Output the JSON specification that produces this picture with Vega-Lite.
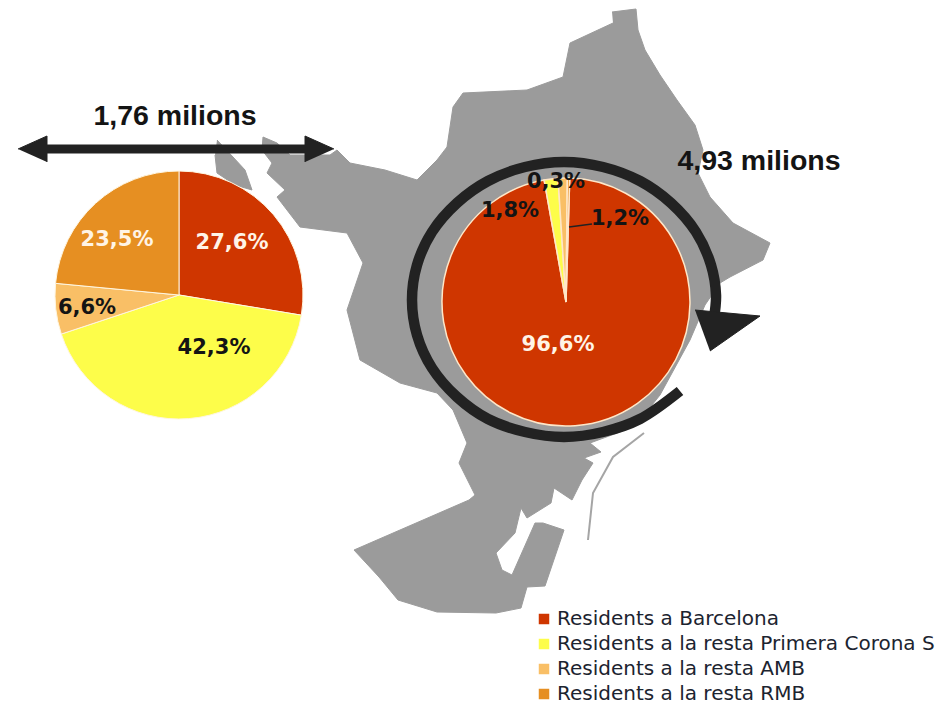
{"$schema":"https://vega.github.io/schema/vega-lite/v6.json","width":943,"height":712,"autosize":{"type":"fit","contains":"padding"},"padding":0,"background":"white","config":{"view":{"stroke":null}},
"datasets":{
"map":[{"p":"a","i":0,"x":612,"y":12},{"p":"a","i":1,"x":636,"y":9},{"p":"a","i":2,"x":638,"y":30},{"p":"a","i":3,"x":645,"y":50},{"p":"a","i":4,"x":660,"y":75},{"p":"a","i":5,"x":677,"y":100},{"p":"a","i":6,"x":695,"y":125},{"p":"a","i":7,"x":703,"y":150},{"p":"a","i":8,"x":698,"y":173},{"p":"a","i":9,"x":710,"y":197},{"p":"a","i":10,"x":733,"y":223},{"p":"a","i":11,"x":770,"y":243},{"p":"a","i":12,"x":763,"y":260},{"p":"a","i":13,"x":730,"y":277},{"p":"a","i":14,"x":720,"y":283},{"p":"a","i":15,"x":705,"y":305},{"p":"a","i":16,"x":690,"y":340},{"p":"a","i":17,"x":660,"y":395},{"p":"a","i":18,"x":640,"y":420},{"p":"a","i":19,"x":620,"y":432},{"p":"a","i":20,"x":590,"y":443},{"p":"a","i":21,"x":601,"y":452},{"p":"a","i":22,"x":584,"y":458},{"p":"a","i":23,"x":593,"y":463},{"p":"a","i":24,"x":582,"y":480},{"p":"a","i":25,"x":572,"y":500},{"p":"a","i":26,"x":554,"y":488},{"p":"a","i":27,"x":551,"y":503},{"p":"a","i":28,"x":527,"y":518},{"p":"a","i":29,"x":521,"y":508},{"p":"a","i":30,"x":515,"y":533},{"p":"a","i":31,"x":496,"y":553},{"p":"a","i":32,"x":502,"y":570},{"p":"a","i":33,"x":512,"y":575},{"p":"a","i":34,"x":535,"y":523},{"p":"a","i":35,"x":543,"y":523},{"p":"a","i":36,"x":564,"y":530},{"p":"a","i":37,"x":545,"y":586},{"p":"a","i":38,"x":527,"y":587},{"p":"a","i":39,"x":521,"y":608},{"p":"a","i":40,"x":496,"y":613},{"p":"a","i":41,"x":437,"y":612},{"p":"a","i":42,"x":398,"y":600},{"p":"a","i":43,"x":379,"y":577},{"p":"a","i":44,"x":354,"y":550},{"p":"a","i":45,"x":469,"y":500},{"p":"a","i":46,"x":475,"y":495},{"p":"a","i":47,"x":459,"y":463},{"p":"a","i":48,"x":467,"y":443},{"p":"a","i":49,"x":453,"y":410},{"p":"a","i":50,"x":437,"y":393},{"p":"a","i":51,"x":400,"y":383},{"p":"a","i":52,"x":360,"y":360},{"p":"a","i":53,"x":347,"y":310},{"p":"a","i":54,"x":363,"y":263},{"p":"a","i":55,"x":347,"y":233},{"p":"a","i":56,"x":300,"y":227},{"p":"a","i":57,"x":277,"y":197},{"p":"a","i":58,"x":285,"y":190},{"p":"a","i":59,"x":267,"y":173},{"p":"a","i":60,"x":272,"y":163},{"p":"a","i":61,"x":262,"y":150},{"p":"a","i":62,"x":263,"y":137},{"p":"a","i":63,"x":277,"y":143},{"p":"a","i":64,"x":290,"y":155},{"p":"a","i":65,"x":330,"y":155},{"p":"a","i":66,"x":337,"y":150},{"p":"a","i":67,"x":350,"y":163},{"p":"a","i":68,"x":385,"y":170},{"p":"a","i":69,"x":417,"y":180},{"p":"a","i":70,"x":437,"y":160},{"p":"a","i":71,"x":447,"y":147},{"p":"a","i":72,"x":453,"y":107},{"p":"a","i":73,"x":463,"y":93},{"p":"a","i":74,"x":527,"y":90},{"p":"a","i":75,"x":563,"y":77},{"p":"a","i":76,"x":570,"y":43},{"p":"a","i":77,"x":613,"y":23},
{"p":"b","i":0,"x":217,"y":140},{"p":"b","i":1,"x":233,"y":157},{"p":"b","i":2,"x":245,"y":170},{"p":"b","i":3,"x":252,"y":190},{"p":"b","i":4,"x":235,"y":185},{"p":"b","i":5,"x":217,"y":173},{"p":"b","i":6,"x":215,"y":155}],
"strip":[{"i":0,"x":644,"y":433},{"i":1,"x":613,"y":457},{"i":2,"x":593,"y":493},{"i":3,"x":588,"y":540}],
"shares":[{"pie":"l","serie":"Residents a Barcelona","share":27.6,"k":1},{"pie":"l","serie":"Residents a la resta Primera Corona S","share":42.3,"k":2},{"pie":"l","serie":"Residents a la resta AMB","share":6.6,"k":3},{"pie":"l","serie":"Residents a la resta RMB","share":23.5,"k":4},{"pie":"r","serie":"Residents a Barcelona","share":96.6,"k":1},{"pie":"r","serie":"Residents a la resta Primera Corona S","share":1.8,"k":2},{"pie":"r","serie":"Residents a la resta AMB","share":1.2,"k":3},{"pie":"r","serie":"Residents a la resta RMB","share":0.3,"k":4}],
"ring":[{"i":0,"x":680,"y":391},{"i":1,"x":640,"y":419},{"i":2,"x":603,"y":432},{"i":3,"x":564,"y":437},{"i":4,"x":525,"y":432},{"i":5,"x":488,"y":419},{"i":6,"x":457,"y":397},{"i":7,"x":432,"y":368},{"i":8,"x":417,"y":335},{"i":9,"x":412,"y":300},{"i":10,"x":417,"y":265},{"i":11,"x":432,"y":232},{"i":12,"x":457,"y":203},{"i":13,"x":488,"y":181},{"i":14,"x":525,"y":167},{"i":15,"x":564,"y":162},{"i":16,"x":603,"y":167},{"i":17,"x":640,"y":181},{"i":18,"x":671,"y":203},{"i":19,"x":696,"y":232},{"i":20,"x":711,"y":265},{"i":21,"x":716,"y":295},{"i":22,"x":714,"y":318}],
"heads":[{"p":"r","i":0,"x":695,"y":310},{"p":"r","i":1,"x":760,"y":316},{"p":"r","i":2,"x":710,"y":351},{"p":"a","i":0,"x":18,"y":149},{"p":"a","i":1,"x":47,"y":136},{"p":"a","i":2,"x":47,"y":162},{"p":"c","i":0,"x":334,"y":149},{"p":"c","i":1,"x":305,"y":136},{"p":"c","i":2,"x":305,"y":162}],
"shaft":[{"i":0,"x":44,"y":149},{"i":1,"x":308,"y":149}],
"leader":[{"i":0,"x":569,"y":227},{"i":1,"x":592,"y":224}],
"white":[{"t":"27,6%","x":232,"y":243},{"t":"23,5%","x":117,"y":240},{"t":"96,6%","x":558,"y":345}],
"black":[{"t":"6,6%","x":87,"y":308},{"t":"42,3%","x":214,"y":348},{"t":"0,3%","x":556,"y":182},{"t":"1,8%","x":510,"y":211},{"t":"1,2%","x":620,"y":219}],
"big":[{"t":"1,76 milions","x":175,"y":116},{"t":"4,93 milions","x":759,"y":161}]
},
"resolve":{"scale":{"theta":"independent"}},
"layer":[
{"data":{"name":"map"},"mark":{"type":"line","fill":"#9b9b9b","stroke":"#9b9b9b","strokeWidth":1},"encoding":{"x":{"field":"x","type":"quantitative","scale":{"domain":[0,943],"nice":false,"zero":false},"axis":null},"y":{"field":"y","type":"quantitative","scale":{"domain":[712,0],"nice":false,"zero":false},"axis":null},"detail":{"field":"p"},"order":{"field":"i"}}},
{"data":{"name":"strip"},"mark":{"type":"line","stroke":"#a5a5a5","strokeWidth":2},"encoding":{"x":{"field":"x","type":"quantitative"},"y":{"field":"y","type":"quantitative"},"order":{"field":"i"}}},
{"data":{"name":"shaft"},"mark":{"type":"line","stroke":"#222222","strokeWidth":9},"encoding":{"x":{"field":"x","type":"quantitative"},"y":{"field":"y","type":"quantitative"},"order":{"field":"i"}}},
{"data":{"name":"shares"},"transform":[{"filter":"datum.pie==='l'"}],"mark":{"type":"arc","outerRadius":124,"stroke":"#fff6e0","strokeWidth":1},"encoding":{"x":{"datum":179},"y":{"datum":295},"theta":{"field":"share","type":"quantitative","stack":true,"scale":{"domain":[0,100],"range":[0,6.2832]}},"order":{"field":"k"},"color":{"field":"serie","type":"nominal","sort":["Residents a Barcelona","Residents a la resta Primera Corona S","Residents a la resta AMB","Residents a la resta RMB"],"scale":{"domain":["Residents a Barcelona","Residents a la resta Primera Corona S","Residents a la resta AMB","Residents a la resta RMB"],"range":["#cf3600","#fdfd4a","#f9bf66","#e68f22"]},"legend":{"title":null,"orient":"none","legendX":534,"legendY":609,"symbolType":"square","symbolSize":110,"symbolStrokeWidth":0,"labelFont":"DejaVu Sans","labelFontSize":20,"labelColor":"#1c2430","labelLimit":500,"rowPadding":5,"labelOffset":3}}}},
{"data":{"name":"shares"},"transform":[{"filter":"datum.pie==='r'"}],"mark":{"type":"arc","outerRadius":124,"stroke":"#ffe7c8","strokeWidth":1.5},"encoding":{"x":{"datum":566},"y":{"datum":302},"theta":{"field":"share","type":"quantitative","stack":true,"scale":{"domain":[0,99.9],"range":[0.03,6.3132]}},"order":{"field":"k"},"color":{"field":"serie","type":"nominal"}}},
{"data":{"name":"ring"},"mark":{"type":"line","stroke":"#222222","strokeWidth":10.5,"interpolate":"catmull-rom"},"encoding":{"x":{"field":"x","type":"quantitative"},"y":{"field":"y","type":"quantitative"},"order":{"field":"i"}}},
{"data":{"name":"heads"},"mark":{"type":"line","fill":"#222222","stroke":"#222222","strokeWidth":1},"encoding":{"x":{"field":"x","type":"quantitative"},"y":{"field":"y","type":"quantitative"},"detail":{"field":"p"},"order":{"field":"i"}}},
{"data":{"name":"leader"},"mark":{"type":"line","stroke":"#222222","strokeWidth":1.5},"encoding":{"x":{"field":"x","type":"quantitative"},"y":{"field":"y","type":"quantitative"},"order":{"field":"i"}}},
{"data":{"name":"white"},"mark":{"type":"text","font":"DejaVu Sans","fontWeight":"bold","fontSize":21,"fill":"#fff4e6","align":"center","baseline":"middle"},"encoding":{"x":{"field":"x","type":"quantitative"},"y":{"field":"y","type":"quantitative"},"text":{"field":"t"}}},
{"data":{"name":"black"},"mark":{"type":"text","font":"DejaVu Sans","fontWeight":"bold","fontSize":21,"fill":"#141414","align":"center","baseline":"middle"},"encoding":{"x":{"field":"x","type":"quantitative"},"y":{"field":"y","type":"quantitative"},"text":{"field":"t"}}},
{"data":{"name":"big"},"mark":{"type":"text","font":"Liberation Sans","fontWeight":"bold","fontSize":28.5,"fill":"#141414","align":"center","baseline":"middle"},"encoding":{"x":{"field":"x","type":"quantitative"},"y":{"field":"y","type":"quantitative"},"text":{"field":"t"}}}
]}
